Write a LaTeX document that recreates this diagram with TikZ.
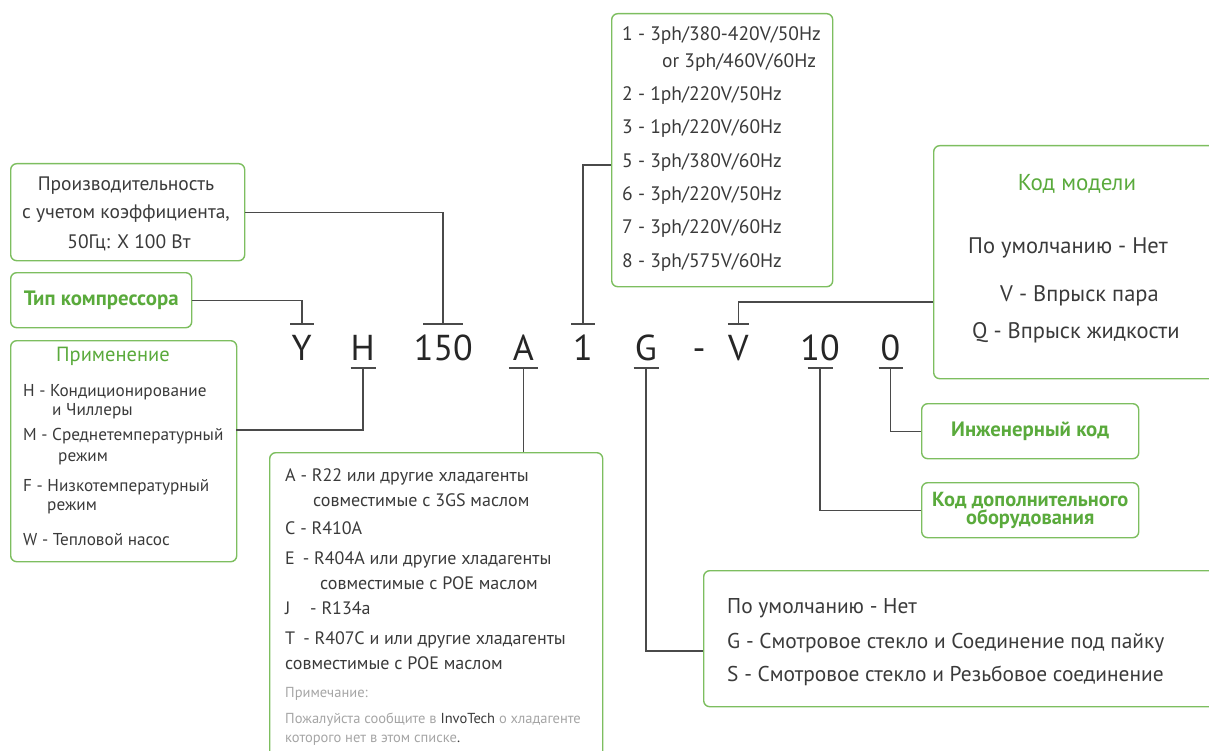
\documentclass[tikz,border=0pt]{standalone}
\usepackage{fontspec}
\setmainfont{PT Sans}
\definecolor{bgreen}{HTML}{7DBE5F}
\definecolor{tgreen}{HTML}{5AAA3C}
\definecolor{tgray}{HTML}{3A3A3A}
\definecolor{lgray}{HTML}{A5A5A5}
\definecolor{lcol}{HTML}{4A4A4A}
\begin{document}
\begin{tikzpicture}[x=1pt,y=-1pt,
  box/.style={draw=bgreen,line width=1.4pt,rounded corners=6pt,inner sep=0pt,anchor=north west},
  conn/.style={draw=lcol,line width=1.3pt},
  txt/.style={inner sep=0pt,text=tgray,yshift=-3.5pt,font=\fontsize{18}{20}\selectfont},
  txtl/.style={txt,anchor=mid west},
  txtc/.style={txt,anchor=mid,font=\fontsize{19.5}{21}\selectfont},
  vtxt/.style={txt,anchor=mid west,font=\fontsize{19.5}{21}\selectfont},
  smalltxt/.style={inner sep=0pt,yshift=-3pt,text=tgray,font=\fontsize{17.2}{19}\selectfont,anchor=mid west},
  bigtxt/.style={txt,font=\fontsize{21.4}{23}\selectfont},
  mtxt/.style={txt,font=\fontsize{22.5}{24}\selectfont},
  gtitle/.style={inner sep=0pt,yshift=-3.5pt,text=tgreen,font=\fontsize{20.5}{22}\selectfont,anchor=mid},
  gbold/.style={text=tgreen,font=\fontsize{20.8}{21}\selectfont\bfseries,align=center},
  note/.style={inner sep=0pt,yshift=-3pt,text=lgray,font=\fontsize{14.5}{16}\selectfont,anchor=mid west},
  code/.style={inner sep=0pt,text=black!85,font=\fontsize{36}{38}\selectfont,anchor=base}
]
\useasboundingbox (0,0) rectangle (1209,751);
\begin{scope}
\clip (0,0) rectangle (1209,751);

% ---------- boxes ----------
\node[box,minimum width=234pt,minimum height=97pt] (b1) at (10,163) {};
\node[box,minimum width=181pt,minimum height=55pt,gbold] (b2) at (10,272) {Тип компрессора};
\node[box,minimum width=226pt,minimum height=221pt] (b3) at (10,340) {};
\node[box,minimum width=333pt,minimum height=330pt] (b4) at (269,452) {};
\node[box,minimum width=221pt,minimum height=273pt] (b5) at (611,13) {};
\node[box,minimum width=300pt,minimum height=233pt] (b6) at (933,145) {};
\node[box,minimum width=217pt,minimum height=55pt,gbold] (b7) at (921,403) {Инженерный код};
\node[box,minimum width=217pt,minimum height=55pt,gbold,font=\fontsize{20.4}{18.5}\selectfont\bfseries] (b8) at (921,482) {Код дополнительного\\оборудования};
\node[box,minimum width=530pt,minimum height=136pt] (b9) at (703,570) {};

% ---------- model code ----------
\node[code] (cY) at (301.6,360) {Y};
\node[code] (cH) at (362.6,360) {H};
\node[code] (c150) at (443.4,360) {150};
\node[code] (cA) at (523.4,360) {A};
\node[code] (c1) at (583,360) {1};
\node[code] (cG) at (645.8,360) {G};
\node[code] (cdash) at (699,360) {-};
\node[code] (cV) at (738.4,360) {V};
\node[code] (c10) at (820,360) {10};
\node[code] (c0) at (890.5,360) {0};

% tee points
\coordinate (tY) at (302,324);
\coordinate (t150) at (443,324);
\coordinate (t1) at (583,324);
\coordinate (tV) at (738.4,324);
\coordinate (tH) at (363,368);
\coordinate (tA) at (523.4,368);
\coordinate (tG) at (646,368);
\coordinate (t10) at (820,368);
\coordinate (t0) at (890.5,368);
\coordinate (e3) at (236,430);
\coordinate (e5) at (611,165);
\coordinate (e6) at (933,302);
\coordinate (e9) at (703,651);

% tee bars
\draw[conn] ([xshift=-12pt]tY) -- ([xshift=12pt]tY);
\draw[conn] ([xshift=-20pt]t150) -- ([xshift=20pt]t150);
\draw[conn] ([xshift=-12pt]t1) -- ([xshift=12pt]t1);
\draw[conn] ([xshift=-10.5pt]tV) -- ([xshift=10.5pt]tV);
\draw[conn] ([xshift=-12.5pt]tH) -- ([xshift=12.5pt]tH);
\draw[conn] ([xshift=-14.5pt]tA) -- ([xshift=14.5pt]tA);
\draw[conn] ([xshift=-12.5pt]tG) -- ([xshift=12.5pt]tG);
\draw[conn] ([xshift=-12.5pt]t10) -- ([xshift=12.5pt]t10);
\draw[conn] ([xshift=-12pt]t0) -- ([xshift=12pt]t0);

% connectors
\draw[conn] (b1.east) -| (t150);
\draw[conn] (b2.east) -| (tY);
\draw[conn] (tH) |- (e3);
\draw[conn] (tA) -- (tA |- b4.north);
\draw[conn] (t1) |- (e5);
\draw[conn] (tG) |- (e9);
\draw[conn] (tV) |- (e6);
\draw[conn] (t10) |- (b8.west);
\draw[conn] (t0) |- (b7.west);

% ---------- box 1 ----------
\node[txtc] (p1) at (126,185) {Производительность};
\node[txtc] (p2) at (126,213) {с учетом коэффициента,};
\node[txtc] (p3) at (129,242) {50Гц: X 100 Вт};

% ---------- box 3 ----------
\node[gtitle] (a0) at (113,355) {Применение};
\node[smalltxt] (a1) at (23,391) {H - Кондиционирование};
\node[smalltxt] (a2) at (52,410) {и Чиллеры};
\node[smalltxt] (a3) at (23,435) {M - Среднетемпературный};
\node[smalltxt] (a4) at (58,456) {режим};
\node[smalltxt] (a5) at (23,486) {F - Низкотемпературный};
\node[smalltxt] (a6) at (47,505) {режим};
\node[smalltxt] (a7) at (23,540) {W - Тепловой насос};

% ---------- box 4 ----------
\node[txtl] (r1) at (285,475) {A - R22 или другие хладагенты};
\node[txtl] (r2) at (313,500) {совместимые с 3GS маслом};
\node[txtl] (r3) at (285,528) {C - R410A};
\node[txtl] (r4) at (285,558) {E\hspace{0.45em}- R404A или другие хладагенты};
\node[txtl] (r5) at (320,583) {совместимые с POE маслом};
\node[txtl] (r6) at (285,608) {J\hspace{1.1em}- R134a};
\node[txtl] (r7) at (285,638) {T\hspace{0.45em}- R407C и или другие хладагенты};
\node[txtl] (r8) at (285,663) {совместимые с POE маслом};
\node[note] (n1) at (285,692) {Примечание:};
\node[note] (n2) at (285,718) {Пожалуйста сообщите в \textcolor{tgray}{InvoTech} о хладагенте};
\node[note] (n3) at (285,737) {которого нет в этом списке\textcolor{tgray}{.}};

% ---------- box 5 ----------
\node[vtxt] (v1) at (622,35) {1 - 3ph/380-420V/50Hz};
\node[vtxt] (v1b) at (662,62) {or 3ph/460V/60Hz};
\node[vtxt] (v2) at (622,95) {2 - 1ph/220V/50Hz};
\node[vtxt] (v3) at (622,128) {3 - 1ph/220V/60Hz};
\node[vtxt] (v5) at (622,162) {5 - 3ph/380V/60Hz};
\node[vtxt] (v6) at (622,195) {6 - 3ph/220V/50Hz};
\node[vtxt] (v7) at (622,228) {7 - 3ph/220V/60Hz};
\node[vtxt] (v8) at (622,262) {8 - 3ph/575V/60Hz};

% ---------- box 6 ----------
\node[gtitle,font=\fontsize{23}{24}\selectfont] (m0) at (1077,185) {Код модели};
\node[mtxt,anchor=mid] (m1) at (1068,248) {По умолчанию - Нет};
\node[mtxt,anchor=mid west] (m2) at (1000,295) {V - Впрыск пара};
\node[mtxt,anchor=mid west] (m3) at (972,332) {Q - Впрыск жидкости};

% ---------- box 9 ----------
\node[bigtxt,anchor=mid west] (s1) at (727,607) {По умолчанию - Нет};
\node[bigtxt,anchor=mid west] (s2) at (727,642) {G - Смотровое стекло и Соединение под пайку};
\node[bigtxt,anchor=mid west] (s3) at (727,675) {S - Смотровое стекло и Резьбовое соединение};
\end{scope}
\end{tikzpicture}
\end{document}
